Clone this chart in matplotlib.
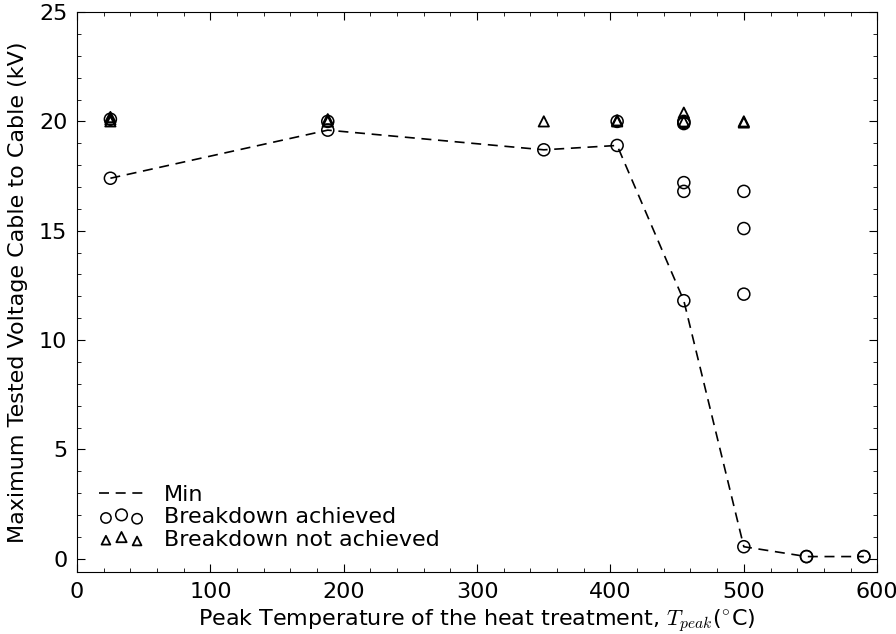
import matplotlib
matplotlib.use('Agg')
import matplotlib.pyplot as plt
from matplotlib.legend_handler import HandlerPathCollection
from matplotlib.ticker import MultipleLocator

plt.rcParams['mathtext.fontset'] = 'cm'

# minimum breakdown voltage per peak temperature
min_temp = [25, 188, 350, 405, 455, 500, 547, 590]
min_volt = [17.4, 19.6, 18.7, 18.9, 11.8, 0.55, 0.1, 0.1]

# samples that broke down
bd_temp = [25, 25, 188, 188, 350, 405, 405, 455, 455, 455, 455, 455, 455,
           500, 500, 500, 500, 547, 547, 590, 590]
bd_volt = [17.4, 20.1, 19.6, 20.0, 18.7, 18.9, 20.0, 20.0, 19.9, 17.2, 16.8, 11.8, 19.95,
           16.8, 15.1, 12.1, 0.55, 0.1, 0.1, 0.1, 0.1]

# samples that survived the test
nbd_temp = [25, 25, 25, 188, 188, 350, 405, 405, 455, 455, 500, 500]
nbd_volt = [20.0, 20.1, 20.2, 20.0, 20.1, 20.0, 20.0, 20.05, 20.0, 20.4, 20.0, 19.95]

fig = plt.figure(figsize=(8.96, 6.34), dpi=100)
ax = fig.add_axes([0.086, 0.098, 0.893, 0.883])

line, = ax.plot(min_temp, min_volt, color='k', ls='--', dashes=(6, 4), lw=1.2, label='Min')
sc1 = ax.scatter(bd_temp, bd_volt, s=75, facecolors='none', edgecolors='k',
                 linewidths=1.1, label='Breakdown achieved', zorder=3)
sc2 = ax.scatter(nbd_temp, nbd_volt, s=55, marker='^', facecolors='none', edgecolors='k',
                 linewidths=1.3, label='Breakdown not achieved', zorder=3)

ax.set_xlim(0, 600)
ax.set_ylim(-0.6, 25)
ax.xaxis.set_major_locator(MultipleLocator(100))
ax.xaxis.set_minor_locator(MultipleLocator(20))
ax.yaxis.set_major_locator(MultipleLocator(5))
ax.yaxis.set_minor_locator(MultipleLocator(1))
ax.tick_params(which='both', direction='in', top=True, right=True, labelsize=16, pad=7)
ax.tick_params(which='major', length=6)
ax.tick_params(which='minor', length=3)

ax.set_xlabel(r'Peak Temperature of the heat treatment, $T_{peak}$($^{\circ}$C)', fontsize=16)
ax.set_ylabel('Maximum Tested Voltage Cable to Cable (kV)', fontsize=16, labelpad=8)

ax.legend(handles=[line, sc1, sc2], loc='lower left', frameon=False, fontsize=16,
          scatterpoints=3, handlelength=2.0, handletextpad=0.9, labelspacing=0.1,
          borderaxespad=0.6,
          handler_map={sc1: HandlerPathCollection(sizes=[55, 70, 55], yoffsets=[0.35, 0.55, 0.3]),
                       sc2: HandlerPathCollection(sizes=[40, 55, 40], yoffsets=[0.35, 0.55, 0.3])})

fig.savefig('out.png', dpi=100, facecolor='white')
